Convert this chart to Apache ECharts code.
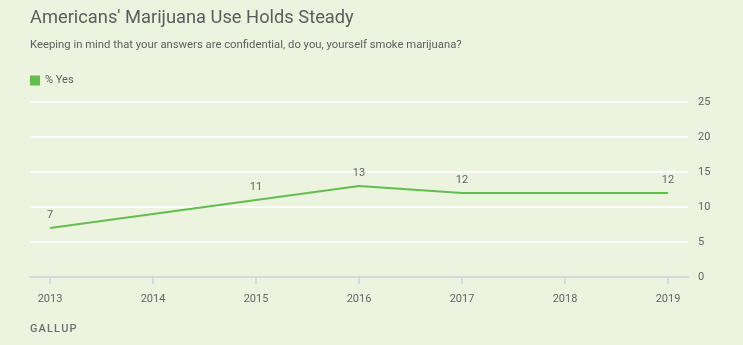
<!DOCTYPE html>
<html><head><meta charset="utf-8">
<script src="https://cdn.jsdelivr.net/npm/echarts@6/dist/echarts.min.js"></script>
<style>html,body{margin:0;padding:0;background:#ECF3DE;}#c{width:743px;height:345px;}</style>
</head><body><div id="c"></div>
<script>
const years = [2013, 2015, 2016, 2017, 2019];
const yesValues = [7, 11, 13, 12, 12];
const xTicks = [2013, 2014, 2015, 2016, 2017, 2018, 2019];
const yTicks = [0, 5, 10, 15, 20, 25];

const chart = echarts.init(document.getElementById('c'));
const FONT = "Roboto, 'Liberation Sans', sans-serif";
chart.setOption({
  backgroundColor: '#ECF3DE',
  animation: false,
  textStyle: {fontFamily: FONT},
  title: [
    {text: "Americans' Marijuana Use Holds Steady", left: 30, top: 9, padding: 0,
     textStyle: {fontSize: 18.3, fontWeight: 'normal', color: '#5e5e5e', fontFamily: FONT}},
    {text: 'Keeping in mind that your answers are confidential, do you, yourself smoke marijuana?', left: 30, top: 40, padding: 0,
     textStyle: {fontSize: 11.3, fontWeight: 'normal', color: '#606060', fontFamily: FONT}},
    {text: 'G\u200AA\u200AL\u200AL\u200AU\u200AP', left: 30, top: 324, padding: 0,
     textStyle: {fontSize: 11, fontWeight: 500, color: '#707070', fontFamily: FONT}}
  ],
  legend: {left: 30, top: 75, padding: 0, icon: 'rect', itemWidth: 10, itemHeight: 10, itemGap: 10,
    textStyle: {fontSize: 11, color: '#606060'}, data: ['% Yes']},
  grid: {left: 30, right: 55, top: 102, bottom: 68},
  xAxis: {
    type: 'value', min: 2013 - 20/103, max: 2019 + 20/103,
    splitLine: {show: false},
    axisLine: {show: true, lineStyle: {color: '#d9d9d9', width: 2}},
    axisTick: {show: true, length: 7, lineStyle: {color: '#d9d9d9', width: 2}, customValues: xTicks},
    axisLabel: {customValues: xTicks, margin: 17, fontSize: 11, color: '#666', formatter: v => String(v)}
  },
  yAxis: {
    type: 'value', position: 'right', min: 0, max: 25, interval: 5,
    axisLine: {show: false}, axisTick: {show: false},
    splitLine: {lineStyle: {color: '#ffffff', width: 2}},
    axisLabel: {margin: 10, fontSize: 11, color: '#666', align: 'left'}
  },
  series: [{
    name: '% Yes', type: 'line', color: '#62BE4F',
    data: years.map((y, i) => [y, yesValues[i]]),
    symbol: 'circle', symbolSize: 0, showSymbol: true,
    lineStyle: {width: 2, color: '#62BE4F'},
    label: {show: true, position: 'top', distance: 7, fontSize: 11, color: '#666'}
  }]
});
</script></body></html>
